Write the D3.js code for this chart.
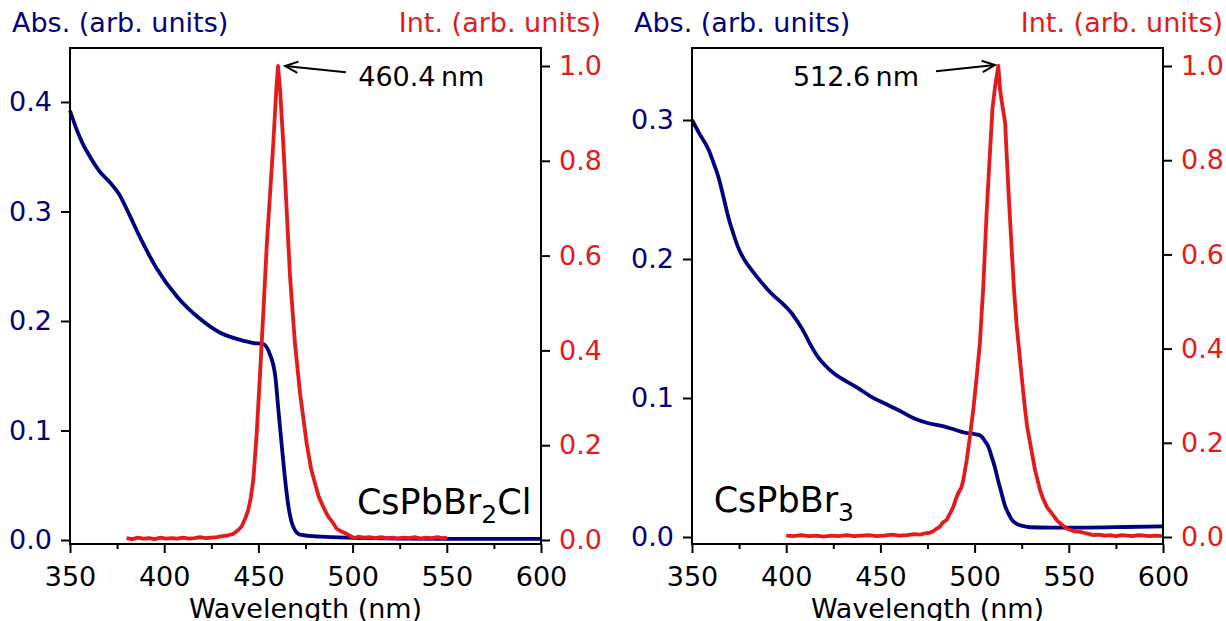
<!DOCTYPE html>
<html>
<head>
<meta charset="utf-8">
<script src="https://cdn.jsdelivr.net/npm/d3@7"></script>
<style>
  body { margin: 0; background: #fff; }
  text { font-family: 'DejaVu Sans', sans-serif; }
</style>
</head>
<body>
<script>
// variables:
var w = 1226
var h = 621
var navy = '#000080'
var red = '#e41a1c'
var fontSize = 27

// ---- data ----
var xTicks = [350, 400, 450, 500, 550, 600]
var xMinorTicks = [375, 425, 475, 525, 575]
var absTicksA = [0, 0.1, 0.2, 0.3, 0.4]
var absTicksB = [0, 0.1, 0.2, 0.3]
var intTicks = [0, 0.2, 0.4, 0.6, 0.8, 1.0]

// CsPbBr2Cl absorbance
var absWlA = [350, 353.5, 357, 360.6, 366, 371, 376, 381, 387, 396, 407, 419, 430, 440, 447, 452.6,
  456, 459, 460.6, 462.3, 464, 466, 468.5, 472, 483, 500, 550, 600]
var absA = [0.392, 0.375, 0.361, 0.350, 0.336, 0.327, 0.316, 0.299, 0.277, 0.248, 0.222, 0.202, 0.189, 0.183, 0.180, 0.179,
  0.170, 0.149, 0.119, 0.088, 0.058, 0.030, 0.012, 0.005, 0.003, 0.002, 0.001, 0.001]

// CsPbBr2Cl photoluminescence
var plWlA = [380, 383, 386, 389, 392, 395, 398, 401, 404, 407, 410, 413, 416, 419, 422, 425, 428, 431, 434, 436.7,
  439, 441, 443, 444.6, 446, 447.3, 449.1, 450.8, 452.6, 454.4, 456.2, 457.9, 459.5, 460.4, 461.5, 463.2, 465,
  466.8, 469.4, 472.1, 475.6, 478, 480, 482, 484.4, 487, 489.8, 491.5, 494, 496.8, 499, 501, 503, 506, 509,
  512, 515, 518, 521, 524, 527, 530, 533, 536, 539, 542, 545, 548, 550]
var plA = [0.004, 0.002, 0.005, 0.003, 0.004, 0.002, 0.005, 0.003, 0.004, 0.003, 0.005, 0.003, 0.004, 0.006, 0.004, 0.005, 0.006, 0.008, 0.010, 0.013,
  0.020, 0.028, 0.045, 0.063, 0.090, 0.127, 0.225, 0.345, 0.478, 0.619, 0.731, 0.837, 0.950, 1.000, 0.950, 0.837, 0.696,
  0.555, 0.415, 0.310, 0.204, 0.150, 0.120, 0.092, 0.070, 0.050, 0.035, 0.024, 0.018, 0.013, 0.008, 0.004, 0.007, 0.005, 0.006,
  0.004, 0.006, 0.004, 0.005, 0.003, 0.005, 0.004, 0.006, 0.003, 0.005, 0.004, 0.006, 0.004, 0.005]

// CsPbBr3 absorbance
var absWlB = [350, 354, 358.7, 362, 364, 367, 369.3, 372, 374.6, 378, 381.7, 387, 392.3, 398, 402.9, 406, 410, 413,
  417.1, 421, 425.9, 432, 438.3, 445, 452.4, 460, 468.4, 475, 482.5, 490, 495, 500, 503, 505.5, 507.3, 509, 510.8,
  512.6, 514.4, 516, 517.9, 520, 522.4, 526, 529.4, 540, 560, 580, 600]
var absB = [0.300, 0.290, 0.279, 0.267, 0.259, 0.243, 0.230, 0.218, 0.208, 0.199, 0.192, 0.183, 0.175, 0.168, 0.161, 0.155, 0.146, 0.138,
  0.129, 0.123, 0.117, 0.112, 0.107, 0.101, 0.096, 0.091, 0.085, 0.082, 0.080, 0.077, 0.075, 0.074, 0.073, 0.069, 0.065, 0.058, 0.050,
  0.040, 0.031, 0.023, 0.017, 0.012, 0.0095, 0.0078, 0.007, 0.0068, 0.0068, 0.0072, 0.0077]

// CsPbBr3 photoluminescence
var plWlB = [400, 404, 408, 412, 416, 420, 424, 428, 432, 436, 440, 444, 448, 452, 456, 460, 464, 468, 471, 474,
  476.3, 478, 480, 481.6, 483, 485.1, 487, 488.7, 490, 491.3, 493, 494, 495.8, 497.5, 499.3, 501.1, 502.8, 504.6,
  506.4, 508.2, 509.5, 511, 512.6, 513.5, 514.4, 516.2, 517.9, 519.7, 521, 522.4, 525, 526.8, 528, 529.5, 532.1,
  534.7, 536, 538.3, 541, 543.6, 545.4, 547, 548.9, 551, 553, 556, 559, 561, 563, 566, 569, 572, 575, 578, 581,
  584, 587, 590, 593, 596, 600]
var plB = [0.003, 0.002, 0.004, 0.002, 0.003, 0.001, 0.003, 0.002, 0.004, 0.002, 0.003, 0.004, 0.002, 0.003, 0.005, 0.003, 0.004, 0.006, 0.005, 0.008,
  0.009, 0.012, 0.018, 0.022, 0.030, 0.036, 0.050, 0.064, 0.080, 0.093, 0.105, 0.121, 0.163, 0.213, 0.270, 0.340, 0.411, 0.531,
  0.690, 0.820, 0.910, 0.960, 1.000, 0.950, 0.925, 0.880, 0.740, 0.610, 0.520, 0.446, 0.340, 0.270, 0.232, 0.199, 0.142,
  0.100, 0.085, 0.064, 0.050, 0.036, 0.029, 0.024, 0.018, 0.015, 0.012, 0.011, 0.008, 0.006, 0.004, 0.005, 0.003, 0.004, 0.002, 0.004, 0.003,
  0.002, 0.004, 0.003, 0.002, 0.003, 0.002]

// axis limits
var xDomain = [350, 600]
var absDomainA = [-0.00365, 0.4493]
var intDomainA = [-0.00844, 1.038]
var absDomainB = [-0.00504, 0.3518]
var intDomainB = [-0.01486, 1.0382]

// plot box (top / bottom edge in px)
var plotTop = 48
var plotBottom = 544

var svg = d3.select('body')
  .append('svg')
  .attr('width', w)
  .attr('height', h)

function drawPanel (p) {
  var x = d3.scaleLinear().domain(xDomain).range([p.left, p.right])
  var yAbs = d3.scaleLinear().domain(p.absDomain).range([plotBottom, plotTop])
  var yInt = d3.scaleLinear().domain(p.intDomain).range([plotBottom, plotTop])
  var g = svg.append('g')

  // absorbance line
  var absLine = d3.line()
    .x(function (d) { return x(d[0]) })
    .y(function (d) { return yAbs(d[1]) })
    .curve(d3.curveMonotoneX)
  g.append('path')
    .datum(d3.zip(p.absWl, p.abs))
    .attr('d', absLine)
    .attr('fill', 'none')
    .attr('stroke', navy)
    .attr('stroke-width', 3.8)
    .attr('stroke-linejoin', 'round')

  // PL line
  var plLine = d3.line()
    .x(function (d) { return x(d[0]) })
    .y(function (d) { return yInt(d[1]) })
  g.append('path')
    .datum(d3.zip(p.plWl, p.pl))
    .attr('d', plLine)
    .attr('fill', 'none')
    .attr('stroke', red)
    .attr('stroke-width', 3.8)
    .attr('stroke-linejoin', 'round')

  // frame
  g.append('rect')
    .attr('x', p.left)
    .attr('y', plotTop)
    .attr('width', p.right - p.left)
    .attr('height', plotBottom - plotTop)
    .attr('fill', 'none')
    .attr('stroke', '#000')
    .attr('stroke-width', 2)

  // x axis
  g.append('g')
    .attr('transform', 'translate(0,' + plotBottom + ')')
    .call(d3.axisBottom(x).tickValues(xTicks).tickSize(9).tickPadding(14).tickFormat(d3.format('d')))
  g.append('g')
    .attr('transform', 'translate(0,' + plotBottom + ')')
    .call(d3.axisBottom(x).tickValues(xMinorTicks).tickSize(5).tickFormat(''))

  // left axis (absorbance)
  var la = g.append('g')
    .attr('transform', 'translate(' + p.left + ',0)')
    .call(d3.axisLeft(yAbs).tickValues(p.absTicks).tickSize(9).tickPadding(9).tickFormat(d3.format('.1f')))
  la.selectAll('text').attr('fill', navy)

  // right axis (PL intensity)
  var ra = g.append('g')
    .attr('transform', 'translate(' + p.right + ',0)')
    .call(d3.axisRight(yInt).tickValues(intTicks).tickSize(9).tickPadding(9).tickFormat(d3.format('.1f')))
  ra.selectAll('text').attr('fill', red)

  g.selectAll('.domain').remove()
  g.selectAll('.tick line').attr('stroke', '#000').attr('stroke-width', 2)
  g.selectAll('.tick text')
    .attr('font-size', fontSize)
    .attr('font-family', 'DejaVu Sans, sans-serif')

  // axis labels
  g.append('text')
    .attr('x', p.left - 58)
    .attr('y', 32)
    .attr('fill', navy)
    .attr('font-size', fontSize)
    .text('Abs. (arb. units)')
  g.append('text')
    .attr('x', p.right + 60)
    .attr('y', 32)
    .attr('text-anchor', 'end')
    .attr('fill', red)
    .attr('font-size', fontSize)
    .text('Int. (arb. units)')
  g.append('text')
    .attr('x', (p.left + p.right) / 2)
    .attr('y', 618)
    .attr('text-anchor', 'middle')
    .attr('font-size', fontSize)
    .text('Wavelength (nm)')

  // sample name with subscript
  var s = g.append('text')
    .attr('x', x(p.nameAt[0]))
    .attr('y', yInt(p.nameAt[1]))
    .attr('font-size', 35)
  s.append('tspan').text(p.name[0])
  s.append('tspan').attr('font-size', 25).attr('dy', 9).text(p.name[1])
  if (p.name[2]) s.append('tspan').attr('dy', -9).text(p.name[2])

  // peak annotation
  var hx = x(p.arrowHead[0])
  var hy = yInt(p.arrowHead[1])
  var tx = x(p.arrowTail[0])
  var ty = yInt(p.arrowTail[1])
  g.append('line')
    .attr('x1', tx).attr('y1', ty)
    .attr('x2', hx).attr('y2', hy)
    .attr('stroke', '#000')
    .attr('stroke-width', 2)
  var ang = Math.atan2(ty - hy, tx - hx)
  var len = 14
  var spread = 0.42
  g.append('path')
    .attr('d', 'M' + (hx + len * Math.cos(ang + spread)) + ',' + (hy + len * Math.sin(ang + spread)) +
      'L' + hx + ',' + hy +
      'L' + (hx + len * Math.cos(ang - spread)) + ',' + (hy + len * Math.sin(ang - spread)))
    .attr('fill', 'none')
    .attr('stroke', '#000')
    .attr('stroke-width', 2)
  g.append('text')
    .attr('x', x(p.labelAt[0]))
    .attr('y', yInt(p.labelAt[1]))
    .attr('text-anchor', p.labelAnchor)
    .attr('font-size', fontSize)
    .text(p.label)
}

drawPanel({
  left: 70,
  right: 541,
  absDomain: absDomainA,
  intDomain: intDomainA,
  absTicks: absTicksA,
  absWl: absWlA,
  abs: absA,
  plWl: plWlA,
  pl: plA,
  name: ['CsPbBr', '2', 'Cl'],
  nameAt: [502.3, 0.054],
  arrowHead: [464.2, 1.0],
  arrowTail: [496.4, 0.987],
  label: '460.4\u2009nm',
  labelAt: [503, 0.958],
  labelAnchor: 'start'
})

drawPanel({
  left: 692,
  right: 1163,
  absDomain: absDomainB,
  intDomain: intDomainB,
  absTicks: absTicksB,
  absWl: absWlB,
  abs: absB,
  plWl: plWlB,
  pl: plB,
  name: ['CsPbBr', '3'],
  nameAt: [361.5, 0.054],
  arrowHead: [510.8, 1.002],
  arrowTail: [479.5, 0.989],
  label: '512.6\u2009nm',
  labelAt: [470.5, 0.958],
  labelAnchor: 'end'
})
</script>
</body>
</html>
